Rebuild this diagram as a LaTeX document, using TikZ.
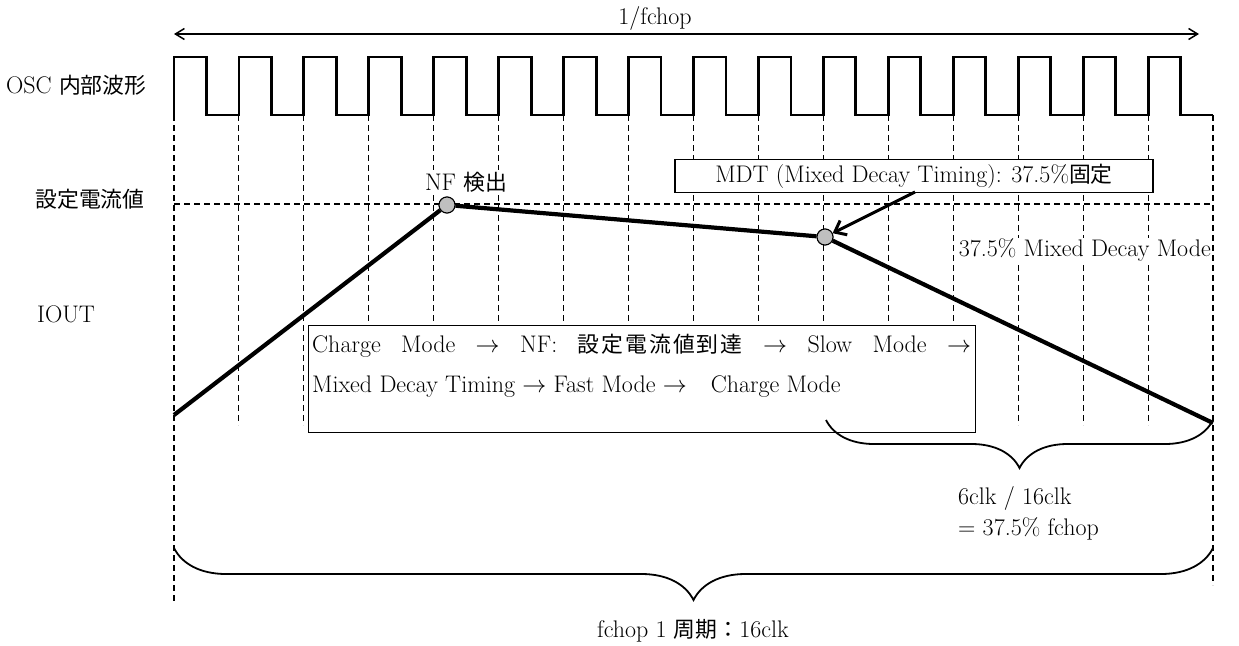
\RequirePackage{fix-cm}
\documentclass[tikz,border=0pt]{standalone}
\usepackage{fontspec}
\newfontfamily\jp[Scale=0.91]{Noto Sans CJK JP}
\usetikzlibrary{arrows.meta,decorations.pathreplacing,calc}
\begin{document}
\begin{tikzpicture}[x=1pt,y=-1pt,
  txt/.style={font=\fontsize{24}{28}\selectfont, inner sep=0pt},
  gridline/.style={dash pattern=on 6pt off 4pt, line width=1.1pt},
  wave/.style={line width=2.8pt, line join=miter},
  iout/.style={line width=4.2pt, line join=round},
  dot/.style={circle, draw=black, line width=1pt, fill=black!25, minimum size=16pt, inner sep=0pt},
  boxed/.style={draw=black, line width=1.3pt, fill=white},
  curly/.style={decorate, decoration={brace, mirror, amplitude=#1}, line width=1.8pt}]
\useasboundingbox (0,0) rectangle (1239,645);

% dashed grid
\foreach \k in {1,...,15}
  \draw[gridline] ({174+\k*64.94},115) -- ({174+\k*64.94},425);
\draw[gridline] (174,115) -- (174,603);
\draw[gridline] (1213,115) -- (1213,585);
\draw[gridline] (174,204) -- (1213,204);

% waveform
\draw[wave] (174,115) foreach \k in {0,...,15} {
  -- ({174+\k*64.94},57) -- ({174+\k*64.94+32.47},57)
  -- ({174+\k*64.94+32.47},115) -- ({174+(\k+1)*64.94},115) };

% top span arrow
\node[txt] (period) at (655,18) {1/fchop};
\coordinate (al) at (174,34);
\coordinate (ar) at (1199,34);
\draw[{Straight Barb[length=9pt,width=11pt]}-{Straight Barb[length=9pt,width=11pt]}, line width=1.5pt] (al) -- (ar);

% left labels
\node[txt, anchor=west] (osc) at (6,85) {OSC {\jp 内部波形}};
\node[txt] (setlbl) at (90,199) {\jp 設定電流値};
\node[txt, anchor=west] (ioutlbl) at (37,314) {IOUT};

% labels with white background
\node[txt, fill=white, inner sep=2pt] (nflbl) at (466,182) {NF {\jp 検出}};
\node[txt, fill=white, inner sep=1pt, anchor=east] (mixlbl) at (1212,250) {37.5\% Mixed Decay Mode};

% flow text box
\node[boxed, anchor=north west, minimum width=667pt, minimum height=107pt, inner sep=0pt] (flow) at (308,325) {};
\node[txt, anchor=west] (flow1) at (312,346) {\makebox[659pt][s]{Charge Mode $\rightarrow$ NF: {\jp 設\kern2pt定\kern2pt電\kern2pt流\kern2pt値\kern2pt到\kern2pt達} $\rightarrow$ Slow Mode $\rightarrow$}};
\node[txt, anchor=west] (flow2) at (312,387) {Mixed Decay Timing $\rightarrow$ Fast Mode $\rightarrow$\quad Charge Mode};

% MDT box
\node[txt, boxed, minimum width=478pt, minimum height=33pt] (mdtbox) at (914,176) {MDT (Mixed Decay Timing): 37.5\%{\jp 固定}};

% IOUT trace
\coordinate (istart) at (174,415);
\coordinate (iend) at (1213,423);
\node[dot] (nf) at (447,205) {};
\node[dot] (mdt) at (825,237) {};
\draw[iout] (istart) -- (nf) -- (mdt) -- (iend);
\node[dot] at (nf) {};
\node[dot] at (mdt) {};

% MDT arrow
\coordinate (mdtfrom) at (915,192);
\draw[line width=3pt, -{Straight Barb[length=10pt,width=16pt]}] (mdtfrom) -- (mdt);

% braces
\coordinate (b1l) at (826,420);
\coordinate (b1r) at (1213,420);
\draw[curly=48pt] (b1l) -- (b1r);
\node[txt, anchor=north west, align=left] (ratio) at (958,486) {6clk / 16clk\\[3pt]= 37.5\% fchop};

\coordinate (b2l) at (174,548);
\coordinate (b2r) at (1213,548);
\draw[curly=52pt] (b2l) -- (b2r);
\node[txt] (cycle) at (693,631) {fchop 1 {\jp 周期：}16clk};
\end{tikzpicture}
\end{document}
